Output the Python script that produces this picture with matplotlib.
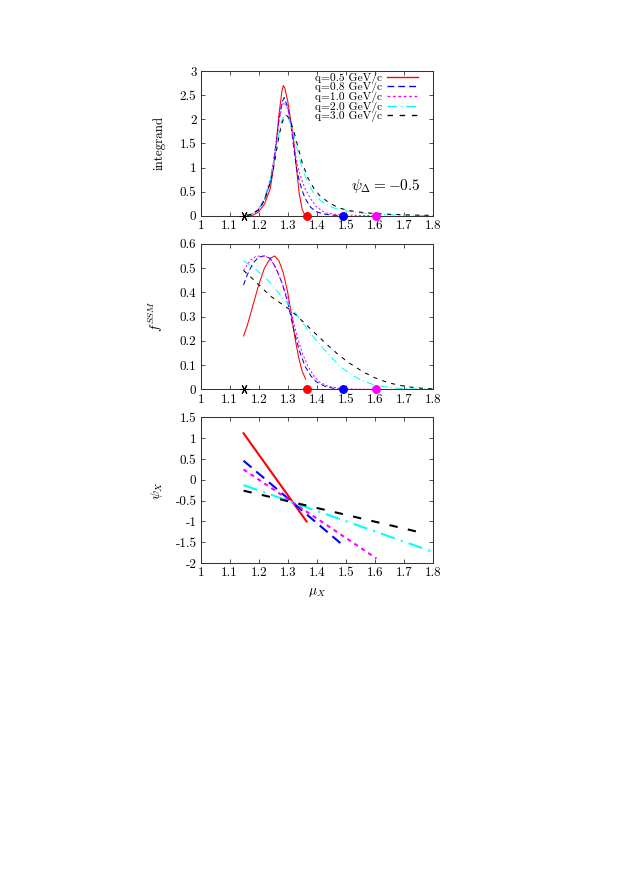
import numpy as np
import matplotlib
matplotlib.use("Agg")
import matplotlib.pyplot as plt
from matplotlib.ticker import FuncFormatter

plt.rcParams['font.family'] = ['cmr10', 'DejaVu Serif']
plt.rcParams['mathtext.fontset'] = 'cm'
plt.rcParams['axes.unicode_minus'] = False
plt.rcParams['axes.formatter.use_mathtext'] = True

# legend labels for the five momenta
labels = ["q=0.5 GeV/c", "q=0.8 GeV/c", "q=1.0 GeV/c", "q=2.0 GeV/c", "q=3.0 GeV/c"]

# --- top panel: integrand vs mu_X ---
int_x_05 = [1.16, 1.18, 1.20, 1.22, 1.24, 1.25, 1.26, 1.27, 1.28, 1.285, 1.29, 1.30, 1.31, 1.32, 1.33, 1.34, 1.35, 1.36]
int_y_05 = [0.0, 0.01, 0.08, 0.24, 0.56, 0.95, 1.45, 2.10, 2.58, 2.70, 2.65, 2.38, 2.00, 1.60, 1.00, 0.45, 0.13, 0.0]
int_x_08 = [1.16, 1.18, 1.20, 1.22, 1.24, 1.25, 1.26, 1.27, 1.28, 1.288, 1.30, 1.31, 1.32, 1.33, 1.34, 1.35, 1.36, 1.38, 1.40, 1.43, 1.46, 1.49]
int_y_08 = [0.01, 0.04, 0.12, 0.32, 0.70, 1.05, 1.50, 1.98, 2.35, 2.45, 2.25, 1.95, 1.45, 1.00, 0.72, 0.52, 0.36, 0.17, 0.08, 0.03, 0.01, 0.0]
int_x_10 = [1.16, 1.18, 1.20, 1.22, 1.24, 1.25, 1.26, 1.27, 1.28, 1.287, 1.30, 1.31, 1.32, 1.33, 1.34, 1.35, 1.36, 1.38, 1.40, 1.43, 1.46, 1.50, 1.55, 1.60]
int_y_10 = [0.01, 0.05, 0.14, 0.35, 0.75, 1.08, 1.50, 1.95, 2.28, 2.35, 2.22, 1.95, 1.55, 1.15, 0.90, 0.72, 0.56, 0.34, 0.18, 0.06, 0.03, 0.015, 0.005, 0.0]
int_x_20 = [1.16, 1.18, 1.20, 1.22, 1.24, 1.25, 1.26, 1.27, 1.28, 1.29, 1.30, 1.31, 1.32, 1.33, 1.35, 1.37, 1.39, 1.41, 1.43, 1.46, 1.50, 1.55, 1.60, 1.65, 1.70, 1.75, 1.80]
int_y_20 = [0.01, 0.05, 0.15, 0.36, 0.74, 1.02, 1.38, 1.72, 1.98, 2.10, 2.05, 1.90, 1.72, 1.45, 0.98, 0.68, 0.46, 0.33, 0.24, 0.16, 0.10, 0.06, 0.035, 0.02, 0.012, 0.006, 0.003]
int_x_30 = [1.16, 1.18, 1.20, 1.22, 1.24, 1.25, 1.26, 1.27, 1.28, 1.29, 1.295, 1.30, 1.31, 1.32, 1.33, 1.35, 1.37, 1.39, 1.41, 1.44, 1.47, 1.50, 1.54, 1.60, 1.65, 1.70, 1.75, 1.80]
int_y_30 = [0.01, 0.04, 0.13, 0.32, 0.68, 0.95, 1.30, 1.65, 1.92, 2.06, 2.08, 2.06, 1.95, 1.78, 1.55, 1.10, 0.78, 0.57, 0.42, 0.28, 0.18, 0.12, 0.08, 0.045, 0.03, 0.02, 0.012, 0.008]

# --- middle panel: f^SSM vs mu_X ---
f_x_05 = [1.148, 1.16, 1.18, 1.20, 1.22, 1.24, 1.255, 1.27, 1.285, 1.30, 1.31, 1.32, 1.33, 1.34, 1.35, 1.362]
f_y_05 = [0.22, 0.26, 0.345, 0.43, 0.50, 0.54, 0.55, 0.53, 0.48, 0.40, 0.33, 0.25, 0.18, 0.12, 0.075, 0.042]
f_x_08 = [1.148, 1.16, 1.18, 1.20, 1.22, 1.24, 1.26, 1.28, 1.30, 1.32, 1.34, 1.36, 1.38, 1.40, 1.43, 1.46, 1.49]
f_y_08 = [0.43, 0.47, 0.52, 0.545, 0.55, 0.54, 0.50, 0.44, 0.36, 0.25, 0.16, 0.095, 0.055, 0.03, 0.012, 0.004, 0.0]
f_x_10 = [1.148, 1.17, 1.19, 1.21, 1.23, 1.25, 1.27, 1.29, 1.31, 1.33, 1.35, 1.37, 1.39, 1.41, 1.44, 1.48, 1.53, 1.60]
f_y_10 = [0.49, 0.53, 0.548, 0.55, 0.545, 0.52, 0.47, 0.41, 0.33, 0.23, 0.15, 0.095, 0.055, 0.03, 0.012, 0.004, 0.001, 0.0]
f_x_20 = [1.148, 1.18, 1.21, 1.24, 1.27, 1.30, 1.33, 1.36, 1.40, 1.44, 1.48, 1.52, 1.56, 1.60, 1.65, 1.70, 1.75, 1.80]
f_y_20 = [0.53, 0.505, 0.475, 0.44, 0.395, 0.355, 0.31, 0.26, 0.20, 0.145, 0.095, 0.06, 0.034, 0.018, 0.008, 0.003, 0.001, 0.0]
f_x_30 = [1.148, 1.18, 1.21, 1.24, 1.27, 1.30, 1.33, 1.365, 1.40, 1.44, 1.47, 1.51, 1.56, 1.60, 1.64, 1.68, 1.72, 1.76, 1.80]
f_y_30 = [0.49, 0.455, 0.42, 0.385, 0.36, 0.335, 0.305, 0.265, 0.225, 0.18, 0.148, 0.11, 0.072, 0.048, 0.03, 0.018, 0.01, 0.005, 0.002]

# --- bottom panel: psi_X vs mu_X (straight lines, end points) ---
psi_x_05 = [1.148, 1.365]
psi_y_05 = [1.12, -1.0]
psi_x_08 = [1.148, 1.49]
psi_y_08 = [0.46, -1.57]
psi_x_10 = [1.148, 1.606]
psi_y_10 = [0.25, -1.89]
psi_x_20 = [1.148, 1.80]
psi_y_20 = [-0.125, -1.73]
psi_x_30 = [1.148, 1.761]
psi_y_30 = [-0.26, -1.27]

# markers on the axis
star_x = 1.148
dot_x = [1.365, 1.49, 1.605]

colors = ['#ff0000', '#0000ff', '#ff00ff', '#00ffff', '#000000']
dashes = [None, (5, 3), (2, 2), (7, 3, 1, 3), (4, 5)]

int_x = [int_x_05, int_x_08, int_x_10, int_x_20, int_x_30]
int_y = [int_y_05, int_y_08, int_y_10, int_y_20, int_y_30]
f_x = [f_x_05, f_x_08, f_x_10, f_x_20, f_x_30]
f_y = [f_y_05, f_y_08, f_y_10, f_y_20, f_y_30]
psi_x = [psi_x_05, psi_x_08, psi_x_10, psi_x_20, psi_x_30]
psi_y = [psi_y_05, psi_y_08, psi_y_10, psi_y_20, psi_y_30]

fig = plt.figure(figsize=(621 / 75, 877 / 75), dpi=75)
left, width = 0.323, 0.374
ax1 = fig.add_axes([left, 0.754, width, 0.165])
ax2 = fig.add_axes([left, 0.556, width, 0.166])
ax3 = fig.add_axes([left, 0.358, width, 0.166])

fmt = FuncFormatter(lambda v, p: '%g' % round(v, 3))
tick_fs = 12.5


def style(ax):
    ax.set_xlim(1, 1.8)
    ax.set_xticks(np.arange(1, 1.81, 0.1))
    ax.xaxis.set_major_formatter(fmt)
    ax.yaxis.set_major_formatter(fmt)
    ax.tick_params(direction='in', top=True, right=True, length=4, width=0.8,
                   labelsize=tick_fs, color='#333333', pad=4)
    for s in ax.spines.values():
        s.set_color('#333333')
        s.set_linewidth(1.0)


def draw(ax, xs, ys, lw, leg=False):
    for i in range(5):
        line, = ax.plot(xs[i], ys[i], color=colors[i], lw=lw,
                        label=labels[i] if leg else None)
        if dashes[i] is not None:
            line.set_dashes(dashes[i])


def axis_marks(ax):
    ax.plot([star_x], [0], marker=(6, 2, 90), ms=9, color='black', mew=1,
            clip_on=False, zorder=5)
    for xv, c in zip(dot_x, colors[:3]):
        ax.plot([xv], [0], 'o', ms=7.5, color=c, clip_on=False, zorder=5)


# top
draw(ax1, int_x, int_y, 1.0, leg=True)
axis_marks(ax1)
style(ax1)
ax1.set_ylim(0, 3)
ax1.set_yticks(np.arange(0, 3.01, 0.5))
ax1.set_ylabel('integrand', fontsize=12.5, labelpad=14)
ax1.text(1.638, 0.62, r'$\psi_\Delta = -0.5$', fontsize=14.7, ha='center', va='center')
leg = ax1.legend(loc='upper right', bbox_to_anchor=(0.945, 1.0), frameon=False,
                 markerfirst=False, fontsize=11, handlelength=2.7, handletextpad=0.45,
                 labelspacing=-0.12, borderaxespad=0.0, borderpad=0.15)
for h in leg.get_lines():
    h.set_linewidth(1.3)

# middle
draw(ax2, f_x, f_y, 1.0)
axis_marks(ax2)
style(ax2)
ax2.set_ylim(0, 0.6)
ax2.set_yticks(np.arange(0, 0.61, 0.1))
ax2.set_ylabel(r'$f^{SSM}$', fontsize=13, labelpad=14)

# bottom
draw(ax3, psi_x, psi_y, 2.0)
style(ax3)
ax3.set_ylim(-2, 1.5)
ax3.set_yticks(np.arange(-2, 1.51, 0.5))
ax3.set_ylabel(r'$\psi_X$', fontsize=13, labelpad=10)
ax3.set_xlabel(r'$\mu_X$', fontsize=13, labelpad=6)

fig.savefig('out.png', dpi=75)
